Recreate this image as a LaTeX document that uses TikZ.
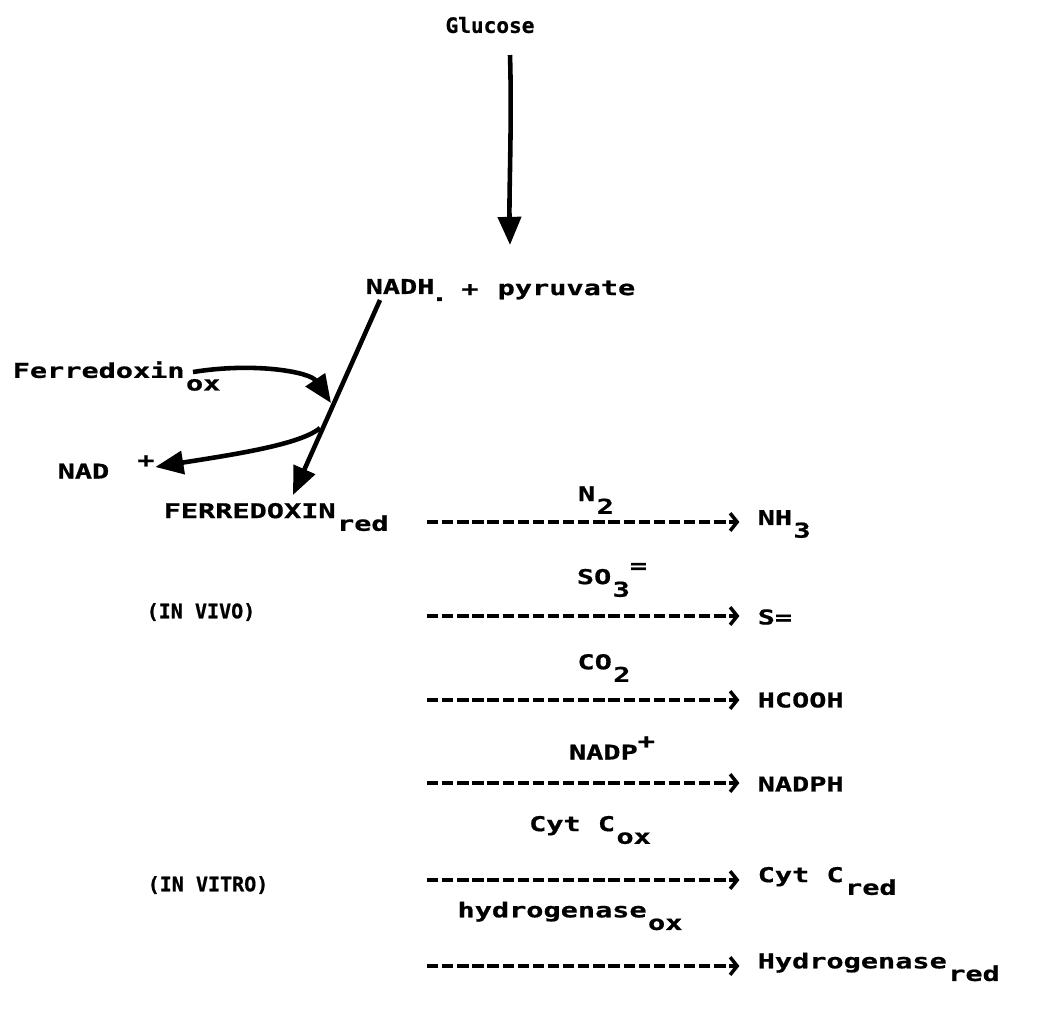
\documentclass[tikz,border=0pt]{standalone}
\usepackage{fontspec}
\usetikzlibrary{arrows.meta}
% wide, heavy "printer" lettering
\newfontfamily\dotfont[FakeStretch=1.4,BoldFeatures={FakeBold=0.8}]{DejaVu Sans Mono}
\newfontfamily\dotnarrow[BoldFeatures={FakeBold=0.8}]{DejaVu Sans Mono}
\newcommand\lowsub[1]{\hspace{0.4pt}\raisebox{-0.62em}{#1}}
\newcommand\highsup[1]{\raisebox{0.55em}{#1}}
\begin{document}
\begin{tikzpicture}[x=0.01cm,y=-0.01cm,
  lbl/.style={inner sep=0pt,font=\fontsize{5.8pt}{7pt}\dotfont\bfseries},
  lblL/.style={lbl,anchor=west},
  nar/.style={inner sep=0pt,anchor=west,font=\fontsize{5.7pt}{7pt}\dotnarrow\bfseries},
  solidarr/.style={line width=1.3pt,-{Triangle[length=8pt,width=6.5pt]}},
  dasharr/.style={line width=1.1pt,dash pattern=on 3.2pt off 1.1pt,
    -{Straight Barb[length=2pt,width=5pt,line width=1pt]},shorten >=5pt}]
\useasboundingbox (0,0) rectangle (1045,1020);

% ---- glycolysis step
\node[nar,anchor=center,font=\fontsize{6pt}{7pt}\dotnarrow\bfseries] (glc) at (490,25) {Glucose};
\node[lblL] (nadh) at (365,290) {NADH\hspace{-1pt}\raisebox{-2pt}{.}};
\node[lbl] (plus) at (470,290) {+};
\node[lblL] (pyr) at (497,290) {pyruvate};
\coordinate (glctop) at (510,55);
\draw[solidarr] (glctop) .. controls (512,120) and (509,190) .. (510,245);

% ---- ferredoxin reduction
\node[lblL] (fox) at (12,376) {Ferredoxin\lowsub{ox}};
\node[lblL] (nad) at (57,467) {NAD\hspace{8pt}\highsup{+}};
\node[lblL] (fred) at (163,517) {FERREDOXIN\lowsub{red}};
\coordinate (nadhfoot) at (380,300);
\coordinate (fredtop) at (293,495);
\coordinate (entry) at (331,403);
\coordinate (exit) at (320,428);
\draw[solidarr] (nadhfoot) -- (fredtop);
\draw[solidarr] (193,372) .. controls (255,362) and (310,372) .. (entry);
\draw[solidarr] (exit) .. controls (300,445) and (230,455) .. (nad.east);

% ---- electron acceptors
\node[nar] (ivv) at (146,612) {(IN VIVO)};
\node[nar] (ivt) at (147,885) {(IN VITRO)};

\foreach \nm/\yy in {a/522,b/616,c/700,d/783,e/880,f/966}{
  \coordinate (s\nm) at (427,\yy);
}
\node[lblL] (ra) at (757,524) {NH\lowsub{3}};
\node[lblL] (rb) at (757,617) {S=};
\node[lblL] (rc) at (757,700) {HCOOH};
\node[lblL] (rd) at (757,784) {NADPH};
\node[lblL] (re) at (757,881) {Cyt C\lowsub{red}};
\node[lblL] (rf) at (757,967) {Hydrogenase\lowsub{red}};

\node[lbl] (ta) at (596,500) {N\lowsub{2}};
\node[lbl] (tb) at (612,580) {SO\lowsub{3}\highsup{=}};
\node[lbl] (tc) at (604,668) {CO\lowsub{2}};
\node[lbl] (td) at (612,748) {NADP\highsup{+}};
\node[lbl] (te) at (590,830) {Cyt C\lowsub{ox}};
\node[lbl] (tf) at (570,916) {hydrogenase\lowsub{ox}};

\foreach \nm in {a,b,c,d,e,f}{
  \draw[dasharr] (s\nm) -- (r\nm.west |- s\nm);
}
\end{tikzpicture}
\end{document}
